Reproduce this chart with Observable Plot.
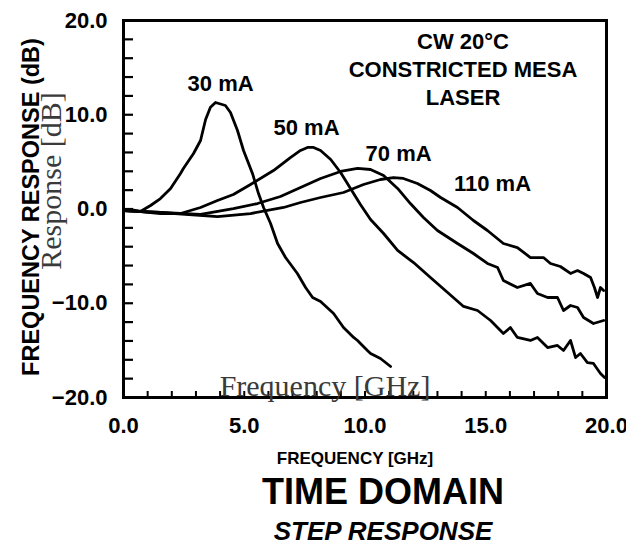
<!DOCTYPE html>
<html>
<head>
<meta charset="utf-8">
<script src="https://cdn.jsdelivr.net/npm/d3@7"></script>
<script src="https://cdn.jsdelivr.net/npm/@observablehq/plot@0.6"></script>
<style>
  html, body { margin: 0; padding: 0; background: #fff; }
  #figure { width: 626px; font-family: "Liberation Sans", Arial, Helvetica, sans-serif; color: #000; }
  .title { width: 626px; box-sizing: border-box; padding-left: 140px; text-align: center; font-weight: bold; white-space: nowrap; }
  #title1 { font-size: 36px; line-height: 36px; margin-top: 2px; }
  #title2 { font-size: 26px; line-height: 28px; font-style: italic; margin-top: 7px; }
</style>
</head>
<body>
<div id="figure"></div>
<script>
// Small-signal modulation response of a constricted-mesa laser, CW at 20 °C.
// Each series: [frequency (GHz), response (dB)] at one bias current.
const mA30 = [[0,-0.16],[0.29,-0.05],[0.70,-0.27],[1.12,0.37],[1.53,1.11],[1.95,2.18],[2.36,3.77],[2.48,4.30],[2.90,5.89],[3.19,7.27],[3.40,9.50],[3.60,10.80],[3.81,11.30],[4.22,10.98],[4.43,10.24],[4.72,8.33],[4.97,6.21],[5.34,3.77],[5.59,1.64],[5.80,0.16],[6.09,-1.54],[6.38,-3.66],[6.71,-5.15],[7.20,-6.84],[7.54,-8.33],[7.83,-9.39],[8.16,-9.81],[8.70,-11.09],[9.11,-12.57],[9.53,-13.63],[9.69,-13.95],[10.10,-15.01],[10.23,-15.33],[10.64,-15.86],[11.06,-16.71]];
const mA50 = [[0,-0.16],[0.70,-0.27],[1.53,-0.48],[2.36,-0.48],[3.19,0.16],[3.89,0.90],[4.55,1.54],[5.26,2.60],[6.21,4.08],[6.91,5.46],[7.33,6.21],[7.62,6.53],[7.87,6.53],[8.16,6.21],[8.58,5.25],[8.99,3.87],[9.40,2.18],[9.81,0.48],[10.23,-1.11],[10.77,-2.60],[11.35,-4.40],[12.01,-5.68],[12.71,-7.27],[13.42,-8.86],[14.08,-10.34],[14.66,-10.77],[15.20,-11.83],[15.73,-13.21],[16.02,-12.57],[16.31,-13.63],[16.85,-13.95],[17.14,-13.63],[17.56,-14.70],[17.97,-14.48],[18.22,-15.01],[18.51,-13.95],[18.72,-15.76],[18.92,-15.33],[19.21,-16.29],[19.46,-16.39],[19.75,-17.45],[19.92,-17.88]];
const mA70 = [[0,-0.16],[1.53,-0.37],[3.19,-0.58],[4.55,0.05],[5.55,0.58],[6.50,1.33],[7.33,2.28],[8.16,3.24],[8.99,3.98],[9.69,4.30],[10.23,4.19],[10.77,3.55],[11.35,2.18],[11.88,0.58],[12.42,-0.90],[13.00,-2.28],[13.83,-3.66],[14.49,-4.72],[15.07,-5.78],[15.49,-6.21],[15.73,-7.59],[16.31,-8.33],[16.85,-7.90],[17.14,-8.97],[17.56,-9.39],[17.97,-9.39],[18.22,-10.77],[18.51,-10.24],[18.80,-10.45],[19.05,-11.51],[19.46,-12.15],[19.88,-11.83]];
const mA110 = [[0,-0.16],[1.53,-0.37],[3.89,-0.80],[5.26,-0.48],[6.63,0.16],[7.33,0.69],[8.16,1.22],[9.11,1.75],[9.94,2.60],[10.64,3.13],[11.18,3.34],[11.59,3.24],[12.17,2.71],[12.71,1.96],[13.13,1.22],[13.83,0.16],[14.49,-1.22],[15.07,-2.28],[15.73,-3.66],[16.31,-4.09],[16.85,-5.15],[17.39,-5.15],[17.68,-5.78],[18.09,-6.10],[18.51,-6.84],[18.80,-6.53],[19.05,-6.84],[19.34,-7.27],[19.50,-8.33],[19.63,-9.39],[19.75,-8.33],[19.88,-8.65]];

const currents = ["30 mA", "50 mA", "70 mA", "110 mA"];
const seriesData = [mA30, mA50, mA70, mA110];

const xLabelTicks = [0, 5, 10, 15, 20];
const yLabelTicks = [-20, -10, 0, 10, 20];
const xMinorTicks = d3.range(1, 20, 1);
const yMinorTicks = d3.range(-18, 19, 2);

const xTitle = "FREQUENCY [GHz]";
const yTitle = "FREQUENCY RESPONSE (dB)";
const xOverlayTitle = "Frequency [GHz]";
const yOverlayTitle = "Response [dB]";
const header = "CW 20°C\nCONSTRICTED MESA\nLASER";
const mainTitle = "TIME DOMAIN";
const subTitle = "STEP RESPONSE";

// long table for the line mark
const rows = seriesData.flatMap((pts, i) => pts.map(([f, db]) => ({current: currents[i], f, db})));

// where each current label sits, in data units
const curveLabels = [
  {label: "30 mA", f: 4.02, db: 13.3},
  {label: "50 mA", f: 7.58, db: 8.55},
  {label: "70 mA", f: 11.39, db: 5.8},
  {label: "110 mA", f: 15.28, db: 2.7}
];

const fmt = d3.format(".1f");
const serif = "'Liberation Serif', 'Times New Roman', serif";

const chart = Plot.plot({
  width: 626,
  height: 472,
  marginTop: 20,
  marginRight: 20,
  marginBottom: 75,
  marginLeft: 123,
  style: {fontFamily: "'Liberation Sans', Arial, Helvetica, sans-serif", fontWeight: "bold", background: "#fff", overflow: "visible", color: "#000"},
  x: {domain: [0, 20]},
  y: {domain: [-20, 20]},
  marks: [
    Plot.axisY(yMinorTicks, {tickSize: -10, strokeWidth: 2.2, tickFormat: () => "", label: null}),
    Plot.axisX(xMinorTicks, {tickSize: -6, strokeWidth: 2, tickFormat: () => "", label: null}),
    Plot.axisY(yLabelTicks, {tickSize: 0, tickPadding: 16, tickFormat: fmt, fontSize: 22, fontWeight: "bold", label: null}),
    Plot.axisX(xLabelTicks, {tickSize: 0, tickPadding: 20, tickFormat: fmt, fontSize: 22, fontWeight: "bold", label: null}),
    Plot.line(rows, {x: "f", y: "db", z: "current", stroke: "#000", strokeWidth: 2.8, strokeLinejoin: "round"}),
    Plot.frame({stroke: "#000", strokeWidth: 3}),
    Plot.text(curveLabels, {x: "f", y: "db", text: "label", fontSize: 22, fontWeight: "bold", fill: "#000"}),
    Plot.text([header], {frameAnchor: "top", dx: 98, dy: 9, lineAnchor: "top", lineHeight: 1.27, fontSize: 22, fontWeight: "bold", fill: "#000"}),
    Plot.text([yTitle], {frameAnchor: "left", textAnchor: "middle", rotate: -90, dx: -92, dy: -2, fontSize: 23.5, fontWeight: "bold", fill: "#000"}),
    Plot.text([xTitle], {frameAnchor: "bottom", dx: -10, dy: 66, fontSize: 17, fontWeight: "bold", fill: "#000"}),
    Plot.text([yOverlayTitle], {frameAnchor: "left", textAnchor: "middle", rotate: -90, dx: -72, dy: -28, fontFamily: serif, fontSize: 30, fontWeight: "normal", fill: "#3a3a3a"}),
    Plot.text([xOverlayTitle], {frameAnchor: "bottom", textAnchor: "middle", dx: -40, dy: -2, lineAnchor: "bottom", fontFamily: serif, fontSize: 30, fontWeight: "normal", fill: "#3a3a3a"})
  ]
});

const fig = document.getElementById("figure");
fig.append(chart);
const t1 = document.createElement("div");
t1.className = "title"; t1.id = "title1"; t1.textContent = mainTitle;
const t2 = document.createElement("div");
t2.className = "title"; t2.id = "title2"; t2.textContent = subTitle;
fig.append(t1, t2);
</script>
</body>
</html>
